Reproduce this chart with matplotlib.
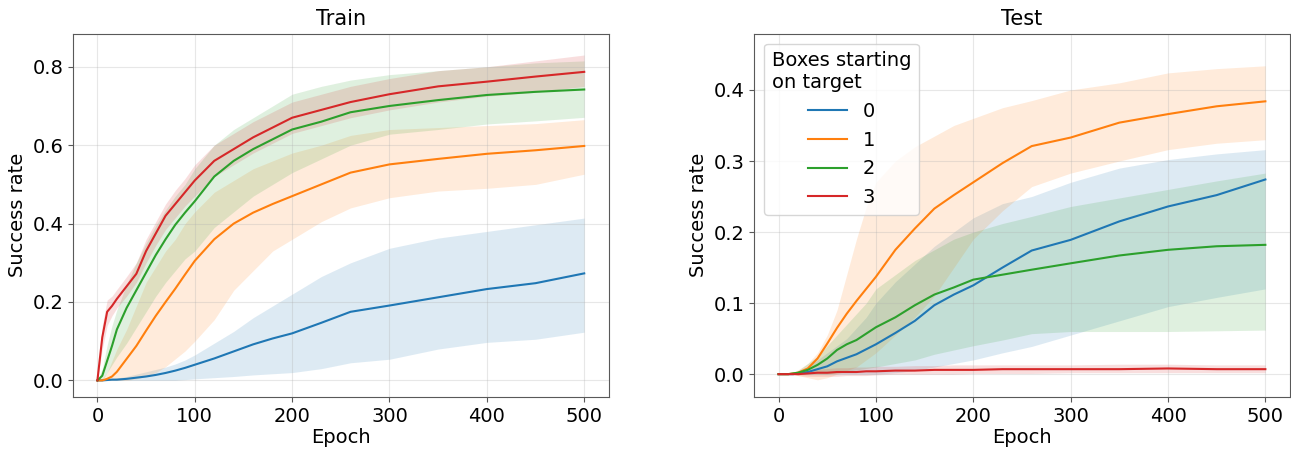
"""
Success rate vs epoch, train and test, by number of boxes starting on target
"""

import numpy as np
import matplotlib.pyplot as plt

#---------------------------------------------------------------------------------------------------
# Data
#---------------------------------------------------------------------------------------------------

epochs = [0, 5, 10, 15, 20, 30, 40, 50, 60, 70, 80, 90, 100, 120, 140, 160, 180, 200,
          230, 260, 300, 350, 400, 450, 500]

labels = ['0', '1', '2', '3']
colors = ['tab:blue', 'tab:orange', 'tab:green', 'tab:red']

# Train
train_mean_0 = [0, 0, 0.001, 0.002, 0.002, 0.004, 0.007, 0.010, 0.014, 0.019, 0.025, 0.032, 0.040,
                0.056, 0.074, 0.092, 0.107, 0.120, 0.147, 0.175, 0.191, 0.212, 0.233, 0.248, 0.273]
train_low_0 = [0, 0, 0, 0, 0, 0, 0, 0, 0, 0, 0, 0.002, 0.004, 0.007, 0.010, 0.014, 0.017, 0.020,
               0.030, 0.045, 0.054, 0.080, 0.097, 0.105, 0.123]
train_high_0 = [0, 0, 0.002, 0.004, 0.006, 0.010, 0.016, 0.022, 0.028, 0.034, 0.042, 0.052, 0.065,
                0.095, 0.125, 0.160, 0.190, 0.220, 0.265, 0.300, 0.337, 0.363, 0.380, 0.397, 0.414]

train_mean_1 = [0, 0, 0.004, 0.010, 0.022, 0.055, 0.088, 0.127, 0.165, 0.200, 0.234, 0.270, 0.305,
                0.360, 0.400, 0.428, 0.450, 0.470, 0.500, 0.530, 0.551, 0.565, 0.578, 0.587, 0.598]
train_low_1 = [0, 0, 0, 0, 0, 0, 0.004, 0.010, 0.020, 0.035, 0.055, 0.075, 0.100, 0.155, 0.230,
               0.280, 0.330, 0.360, 0.405, 0.440, 0.466, 0.483, 0.490, 0.500, 0.526]
train_high_1 = [0, 0.005, 0.020, 0.050, 0.080, 0.130, 0.190, 0.250, 0.290, 0.330, 0.360, 0.400,
                0.430, 0.480, 0.510, 0.540, 0.560, 0.580, 0.600, 0.625, 0.640, 0.645, 0.650, 0.655,
                0.665]

train_mean_2 = [0, 0.012, 0.050, 0.088, 0.130, 0.185, 0.230, 0.275, 0.320, 0.360, 0.397, 0.428,
                0.457, 0.520, 0.560, 0.590, 0.615, 0.640, 0.660, 0.684, 0.700, 0.715, 0.728, 0.736,
                0.742]
train_low_2 = [0, 0, 0.020, 0.040, 0.060, 0.095, 0.135, 0.175, 0.215, 0.250, 0.280, 0.310, 0.330,
               0.390, 0.430, 0.470, 0.500, 0.530, 0.565, 0.600, 0.628, 0.640, 0.654, 0.662, 0.671]
train_high_2 = [0, 0.030, 0.090, 0.140, 0.180, 0.245, 0.300, 0.350, 0.395, 0.435, 0.470, 0.500,
                0.540, 0.600, 0.640, 0.670, 0.700, 0.730, 0.750, 0.766, 0.780, 0.790, 0.800, 0.810,
                0.815]

train_mean_3 = [0, 0.110, 0.175, 0.190, 0.208, 0.240, 0.272, 0.330, 0.375, 0.420, 0.450, 0.480,
                0.510, 0.560, 0.590, 0.620, 0.645, 0.670, 0.690, 0.710, 0.730, 0.750, 0.762, 0.775,
                0.787]
train_low_3 = [0, 0.080, 0.140, 0.165, 0.185, 0.215, 0.250, 0.300, 0.345, 0.385, 0.415, 0.445,
               0.470, 0.520, 0.550, 0.580, 0.605, 0.630, 0.650, 0.670, 0.690, 0.710, 0.725, 0.735,
               0.750]
train_high_3 = [0, 0.140, 0.205, 0.215, 0.232, 0.265, 0.300, 0.360, 0.405, 0.450, 0.485, 0.515,
                0.550, 0.600, 0.630, 0.660, 0.685, 0.710, 0.730, 0.750, 0.770, 0.790, 0.800, 0.815,
                0.830]

# Test
test_mean_0 = [0, 0, 0, 0, 0.001, 0.003, 0.007, 0.011, 0.018, 0.023, 0.028, 0.035, 0.042, 0.058,
               0.075, 0.097, 0.112, 0.125, 0.150, 0.174, 0.189, 0.215, 0.236, 0.252, 0.274]
test_low_0 = [0, 0, 0, 0, 0, 0, 0, 0, 0, 0, 0, 0, 0, 0.002, 0.005, 0.010, 0.015, 0.020, 0.030,
              0.039, 0.055, 0.075, 0.095, 0.108, 0.120]
test_high_0 = [0, 0, 0, 0.001, 0.003, 0.010, 0.020, 0.030, 0.040, 0.050, 0.065, 0.080, 0.100,
               0.130, 0.155, 0.180, 0.200, 0.220, 0.240, 0.250, 0.270, 0.290, 0.302, 0.310, 0.316]

test_mean_1 = [0, 0, 0, 0.001, 0.002, 0.008, 0.022, 0.043, 0.065, 0.085, 0.103, 0.120, 0.137,
               0.175, 0.205, 0.233, 0.252, 0.270, 0.297, 0.321, 0.333, 0.354, 0.366, 0.377, 0.384]
test_low_1 = [0, 0, 0, 0, -0.002, -0.005, -0.008, -0.005, 0, 0.005, 0.010, 0.020, 0.030, 0.055,
              0.080, 0.110, 0.150, 0.190, 0.230, 0.264, 0.283, 0.300, 0.316, 0.325, 0.330]
test_high_1 = [0, 0, 0, 0.003, 0.006, 0.015, 0.030, 0.055, 0.090, 0.140, 0.190, 0.235, 0.270,
               0.300, 0.320, 0.335, 0.350, 0.360, 0.375, 0.385, 0.400, 0.410, 0.424, 0.430, 0.434]

test_mean_2 = [0, 0, 0, 0.001, 0.002, 0.006, 0.013, 0.022, 0.034, 0.042, 0.048, 0.057, 0.066,
               0.080, 0.097, 0.112, 0.122, 0.133, 0.140, 0.147, 0.156, 0.167, 0.175, 0.180, 0.182]
test_low_2 = [0, 0, 0, 0, 0, 0, 0, 0, 0.002, 0.004, 0.006, 0.008, 0.010, 0.015, 0.020, 0.028,
              0.034, 0.040, 0.048, 0.057, 0.060, 0.060, 0.060, 0.061, 0.062]
test_high_2 = [0, 0, 0, 0.002, 0.005, 0.015, 0.025, 0.040, 0.055, 0.070, 0.085, 0.100, 0.120,
               0.140, 0.160, 0.175, 0.190, 0.200, 0.212, 0.222, 0.236, 0.248, 0.260, 0.272, 0.283]

test_mean_3 = [0, 0, 0, 0, 0, 0.001, 0.002, 0.002, 0.003, 0.003, 0.003, 0.004, 0.004, 0.005,
               0.005, 0.006, 0.006, 0.006, 0.007, 0.007, 0.007, 0.007, 0.008, 0.007, 0.007]
test_low_3 = [0, 0, 0, 0, -0.002, -0.003, -0.003, -0.003, -0.003, -0.002, -0.002, -0.002, -0.001,
              0, 0, 0, 0, 0.001, 0.001, 0.001, 0.002, 0.002, 0.002, 0.002, 0.002]
test_high_3 = [0, 0, 0, 0.001, 0.003, 0.005, 0.007, 0.008, 0.009, 0.009, 0.010, 0.010, 0.011,
               0.011, 0.012, 0.012, 0.013, 0.013, 0.013, 0.013, 0.013, 0.014, 0.014, 0.013, 0.013]

train = [(train_mean_0, train_low_0, train_high_0), (train_mean_1, train_low_1, train_high_1),
         (train_mean_2, train_low_2, train_high_2), (train_mean_3, train_low_3, train_high_3)]
test = [(test_mean_0, test_low_0, test_high_0), (test_mean_1, test_low_1, test_high_1),
        (test_mean_2, test_low_2, test_high_2), (test_mean_3, test_low_3, test_high_3)]

#---------------------------------------------------------------------------------------------------
# Plot
#---------------------------------------------------------------------------------------------------

plt.rcParams['axes.edgecolor'] = '0.35'
plt.rcParams['xtick.color'] = '0.35'
plt.rcParams['ytick.color'] = '0.35'
plt.rcParams['xtick.labelcolor'] = 'black'
plt.rcParams['ytick.labelcolor'] = 'black'

fig, axes = plt.subplots(1, 2, figsize=(12.91, 4.51), dpi=100)
plt.subplots_adjust(left=0.0566, right=0.999, top=0.925, bottom=0.12, wspace=0.272)

for ax, data, ttl, ylim in zip(axes, [train, test], ['Train', 'Test'],
                               [(-0.042, 0.884), (-0.032, 0.479)]):
    for (m, lo, hi), c, lab in zip(data, colors, labels):
        ax.fill_between(epochs, lo, hi, color=c, alpha=0.15, linewidth=0)
        ax.plot(epochs, m, color=c, lw=1.5, label=lab)
    ax.set_title(ttl, fontsize=15)
    ax.set_xlabel('Epoch', fontsize=14, labelpad=2)
    ax.set_ylabel('Success rate', fontsize=14)
    ax.set_xlim(-25, 525)
    ax.set_ylim(ylim)
    ax.set_xticks([0, 100, 200, 300, 400, 500])
    ax.tick_params(axis='both', labelsize=14)
    ax.grid(alpha=0.3)

axes[0].set_yticks([0.0, 0.2, 0.4, 0.6, 0.8])
axes[1].set_yticks([0.0, 0.1, 0.2, 0.3, 0.4])

leg = axes[1].legend(title='Boxes starting\non target', fontsize=14, title_fontsize=14,
                     loc='upper left')
leg.get_title().set_multialignment('left')

plt.savefig('out.png')
plt.close()
